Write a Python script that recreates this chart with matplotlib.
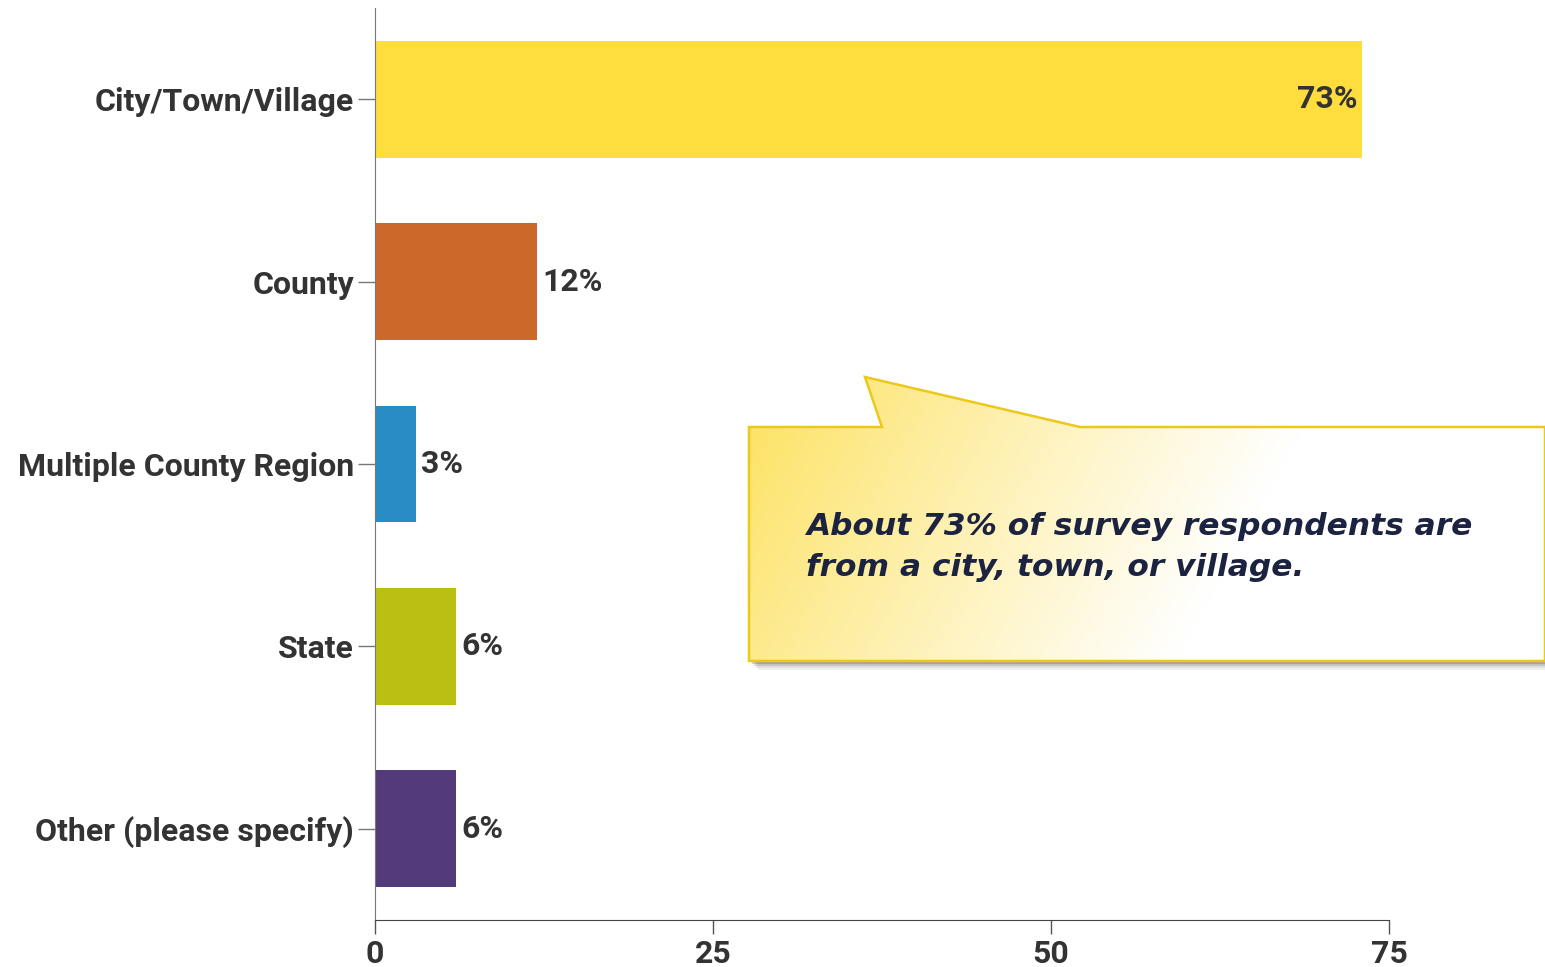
import numpy as np
import matplotlib.pyplot as plt
from matplotlib.path import Path
from matplotlib.patches import PathPatch, Polygon
from matplotlib.colors import to_rgb

categories = ["City/Town/Village", "County", "Multiple County Region", "State", "Other (please specify)"]
values = [73, 12, 3, 6, 6]
labels = ["73%", "12%", "3%", "6%", "6%"]
colors = ["#fedd3d", "#cc6829", "#2a8cc4", "#bbbf13", "#523a7b"]
xticks = [0, 25, 50, 75]
note = "About 73% of survey respondents are\nfrom a city, town, or village."

W, H = 1545, 967
fig = plt.figure(figsize=(W / 100, H / 100), dpi=100)
ax = fig.add_axes([375 / W, 1 - 920 / H, (1389 - 375) / W, (920 - 8) / H])

txt = "#333333"
font = "Roboto"
fs = 23

y = np.arange(len(categories))
ax.barh(y, values, height=0.64, color=colors)
ax.set_ylim(4.5, -0.5)
ax.set_xlim(0, 75)

for i, (v, lab) in enumerate(zip(values, labels)):
    if v > 40:
        ax.text(v - 0.3, i, lab, ha="right", va="center", fontsize=fs,
                fontweight="bold", color=txt, family=font)
    else:
        ax.text(v + 0.4, i, lab, ha="left", va="center", fontsize=fs,
                fontweight="bold", color=txt, family=font)

ax.set_yticks(y)
ax.set_yticklabels(categories, fontsize=fs, fontweight="bold", color=txt, family=font)
ax.set_xticks(xticks)
ax.set_xticklabels([str(t) for t in xticks], fontsize=fs, fontweight="bold", color=txt, family=font)
ax.tick_params(axis="y", length=12, width=1, color="#777777", pad=3)
ax.tick_params(axis="x", length=10, width=1, color="#555555", pad=4)
for s in ["top", "right"]:
    ax.spines[s].set_visible(False)
ax.spines["left"].set_color("#777777")
ax.spines["bottom"].set_color("#444444")

# callout drawn in pixel coordinates on an overlay axes
ov = fig.add_axes([0, 0, 1, 1])
ov.set_xlim(0, W)
ov.set_ylim(H, 0)
ov.axis("off")

shape = [(749, 427), (882, 427), (865, 377), (1080, 427), (1545, 427),
         (1545, 661), (749, 661), (749, 427)]

# soft drop shadow
for k, a in enumerate([0.16, 0.12, 0.08, 0.05]):
    off = 3 + k * 2
    sh = [(px + off, py + off) for px, py in shape]
    ov.add_patch(Polygon(sh, closed=True, facecolor="#000000", alpha=a,
                         edgecolor="none", zorder=1))

# diagonal gradient from yellow to white, clipped to the bubble
gx, gy = np.meshgrid(np.arange(740, 1546), np.arange(370, 670))
t = np.clip(((gx - 750) + 0.55 * (gy - 380)) / 580, 0, 1) ** 0.9
c0 = np.array(to_rgb("#fde15c"))
img = c0[None, None, :] * (1 - t[..., None]) + np.ones(3)[None, None, :] * t[..., None]
im = ov.imshow(img, extent=(740, 1546, 670, 370), zorder=2, aspect="auto")
clip = PathPatch(Path(shape, closed=True), facecolor="none", edgecolor="#ecc81a",
                 linewidth=1.8, zorder=3)
ov.add_patch(clip)
im.set_clip_path(clip)
ov.set_xlim(0, W)
ov.set_ylim(H, 0)

ov.text(806, 547, note, ha="left", va="center", fontsize=22.5, fontweight="bold",
        fontstyle="italic", color="#1b2340", family="DejaVu Sans", linespacing=1.55, zorder=4)

fig.savefig("out.png", dpi=100)
